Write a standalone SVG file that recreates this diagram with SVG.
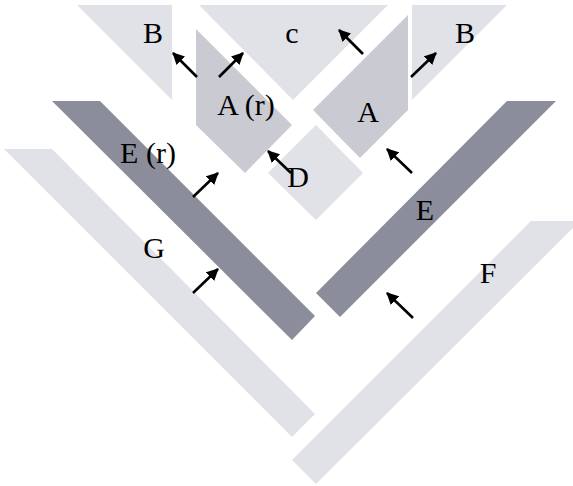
<svg xmlns="http://www.w3.org/2000/svg" width="573" height="486" viewBox="0 0 573 486">
<defs>
<marker id="ah" markerWidth="12" markerHeight="12" refX="11" refY="6" orient="auto" markerUnits="userSpaceOnUse" viewBox="0 0 12 12">
<path d="M0,0 L12,6 L0,12 z" fill="#000"/>
</marker>
<style>
.l{fill:#e1e2e8}
.m{fill:#c9cad2}
.d{fill:#8b8d9a}
text{font-family:"Liberation Serif","Times New Roman",serif;font-size:30px;fill:#000;text-anchor:middle}
.c line{stroke:#000;stroke-width:2.6;marker-end:url(#ah)}
</style>
</defs>
<rect width="573" height="486" fill="#fff"/>
<g id="nodeG"><polygon class="l" points="4,149 52,149 315,414 292,437"/><text x="154" y="258">G</text></g>
<g id="nodeF"><polygon class="l" points="531,221 580,221 316,484 292,460"/><text x="488" y="283">F</text></g>
<g id="nodeEr"><polygon class="d" points="52,101 100,101 315,316 292,340"/></g>
<g id="nodeE"><polygon class="d" points="507,101 556,101 340,317 316,293"/><text x="425" y="220">E</text></g>
<g id="nodeBl"><polygon class="l" points="77,5 172,5 172,100"/><text x="153" y="43">B</text></g>
<g id="nodeC"><polygon class="l" points="199,5 388,5 293,100"/><text x="292" y="43">c</text></g>
<g id="nodeBr"><polygon class="l" points="412,5 507,5 412,100"/><text x="465" y="43">B</text></g>
<g id="nodeAr"><polygon class="m" points="196,29 292,125 245,173 196,125"/><text x="246" y="115">A (r)</text></g>
<g id="nodeA"><polygon class="m" points="313,110 408,15 408,110 360,158"/><text x="368" y="122">A</text></g>
<g id="nodeD"><polygon class="l" points="316,125 363,173 316,220 268,173"/></g>
<g class="c" id="connectors">
<line x1="197" y1="77" x2="173" y2="53"/>
<line x1="219" y1="77" x2="243" y2="53"/>
<line x1="363" y1="54" x2="339" y2="30"/>
<line x1="411" y1="77" x2="436" y2="53"/>
<line x1="291" y1="173" x2="268" y2="151"/>
<line x1="193" y1="197" x2="218" y2="173"/>
<line x1="193" y1="293" x2="218" y2="269"/>
<line x1="412" y1="173" x2="387" y2="149"/>
<line x1="413" y1="318" x2="387" y2="293"/>
</g>
<text x="148" y="163">E (r)</text>
<text x="298" y="187">D</text>
</svg>
